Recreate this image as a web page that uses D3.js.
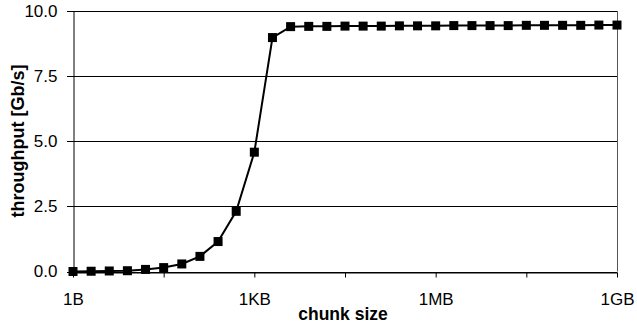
<!DOCTYPE html>
<html>
<head>
<meta charset="utf-8">
<style>
    body { margin: 0; background: #fff; }
    svg { font-family: 'Liberation Sans', Arial, sans-serif; }
</style>
</head>
<body>
<svg width="637" height="329"></svg>
<script src="https://d3js.org/d3.v7.min.js"></script>
<script>
    // chunk size as power of two (2^0 = 1B ... 2^30 = 1GB)
    let exponents = d3.range(0, 31)
    let throughput = [0.0, 0.01, 0.02, 0.03, 0.08, 0.15, 0.29, 0.58, 1.15, 2.31, 4.58, 8.98,
        9.40, 9.41, 9.41, 9.42, 9.42, 9.42, 9.43, 9.43, 9.43, 9.44, 9.44, 9.44, 9.44, 9.45,
        9.45, 9.45, 9.45, 9.46, 9.46]
    let xTicks = [0, 5, 10, 15, 20, 25, 30]
    let xTickLabels = { 0: "1B", 10: "1KB", 20: "1MB", 30: "1GB" }
    let yTicks = [0, 2.5, 5, 7.5, 10]

    let svg = d3.select("svg")
    let mLeft = 73, mRight = 617, mTop = 11, mBottom = 271.5
    let fontFam = "'Liberation Sans', Arial, sans-serif"

    let x = d3.scaleLinear().domain([0, 30]).range([mLeft, mRight])
    let y = d3.scaleLinear().domain([0, 10]).range([mBottom, mTop])

    // gridlines
    svg.append("g")
        .selectAll("line")
        .data(yTicks)
        .join("line")
        .attr("x1", mLeft - 6)
        .attr("x2", mRight)
        .attr("y1", d => Math.round(y(d)) + 0.5)
        .attr("y2", d => Math.round(y(d)) + 0.5)
        .attr("stroke", "#000")
        .attr("stroke-width", 1)

    // right border
    svg.append("line")
        .attr("x1", mRight + 0.5).attr("x2", mRight + 0.5)
        .attr("y1", mTop).attr("y2", mBottom)
        .attr("stroke", "#555")

    // y axis
    svg.append("g")
        .attr("transform", `translate(${mLeft + 0.5},0)`)
        .call(d3.axisLeft(y).tickValues(yTicks).tickSize(0).tickPadding(16).tickFormat(d3.format(".1f")))
        .call(g => g.select(".domain").attr("stroke", "#000"))
        .call(g => g.selectAll("text").attr("font-size", 17).attr("fill", "#000").attr("font-family", fontFam))

    // x axis
    svg.append("g")
        .attr("transform", `translate(0,${Math.round(mBottom) + 0.5})`)
        .call(d3.axisBottom(x).tickValues(xTicks).tickSizeOuter(0).tickSizeInner(5).tickPadding(15)
            .tickFormat(d => xTickLabels[d] || ""))
        .call(g => g.select(".domain").attr("stroke", "#000"))
        .call(g => g.selectAll("line").attr("stroke", "#000"))
        .call(g => g.selectAll("text").attr("font-size", 17).attr("fill", "#000").attr("font-family", fontFam))

    // series
    let line = d3.line()
        .x((d, i) => x(exponents[i]))
        .y(d => y(d))

    svg.append("path")
        .datum(throughput)
        .attr("d", line)
        .attr("fill", "none")
        .attr("stroke", "#000")
        .attr("stroke-width", 2)

    let s = 9
    svg.append("g")
        .selectAll("rect")
        .data(throughput)
        .join("rect")
        .attr("x", (d, i) => x(exponents[i]) - s / 2)
        .attr("y", d => y(d) - s / 2)
        .attr("width", s)
        .attr("height", s)
        .attr("fill", "#000")

    // axis titles
    svg.append("text")
        .attr("x", 343)
        .attr("y", 320)
        .attr("text-anchor", "middle")
        .attr("font-size", 17.5)
        .attr("font-weight", "bold")
        .text("chunk size")

    svg.append("text")
        .attr("transform", `translate(24,141) rotate(-90)`)
        .attr("text-anchor", "middle")
        .attr("font-size", 18)
        .attr("font-weight", "bold")
        .text("throughput [Gb/s]")
</script>
</body>
</html>
